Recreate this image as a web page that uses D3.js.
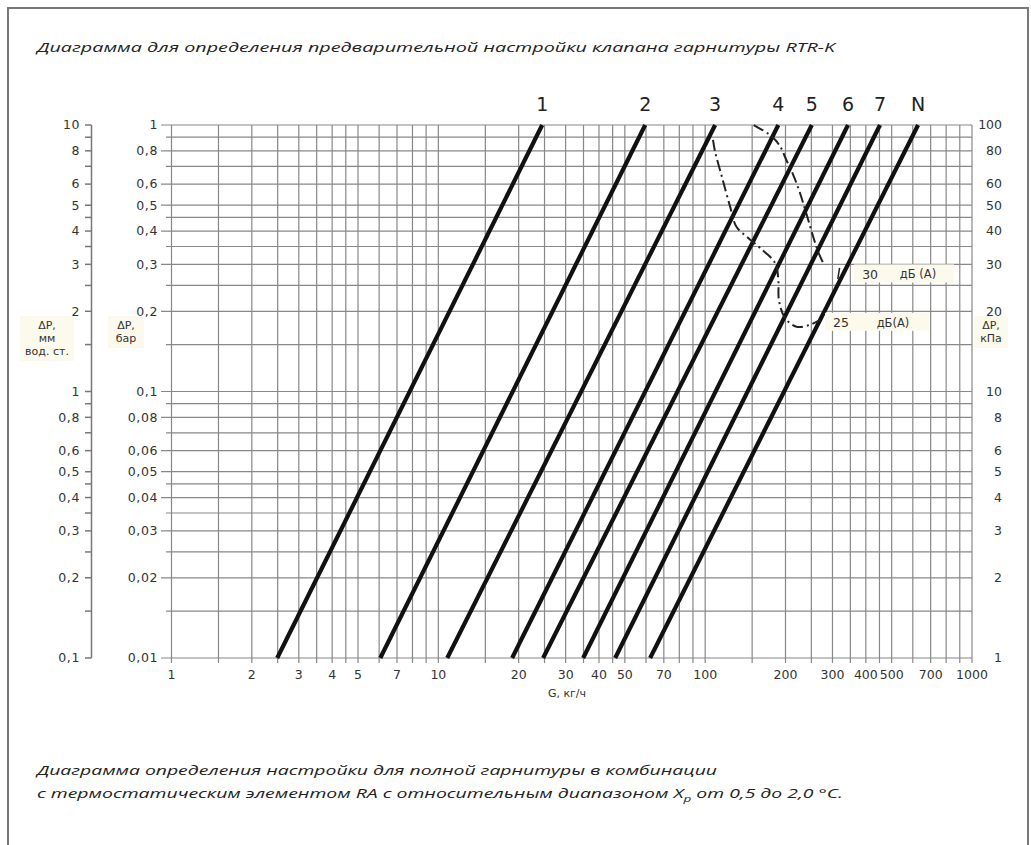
<!DOCTYPE html>
<html>
<head>
<meta charset="utf-8">
<script src="https://cdn.jsdelivr.net/npm/d3@7"></script>
<style>
  body { margin: 0; background: #fff; }
  svg text { font-family: "DejaVu Sans", sans-serif; fill: #333; }
  .ttl { font-family: "Open Sans", sans-serif; font-style: italic; fill: #222; }
</style>
</head>
<body>
<svg id="Chart" width="1031" height="845"></svg>
<script>
// presetting lines: G (kg/h) at 0.01 bar and at 1 bar
var settings = ["1", "2", "3", "4", "5", "6", "7", "N"];
var gAtLow  = [2.49, 6.06, 10.8, 18.9, 24.7, 34.9, 46, 62.2];
var gAtHigh = [24.5, 59.6, 109, 188, 251, 343, 452, 628];
var pRange = [0.01, 1];

// noise limit curves [G, dP bar]
var noise30 = [[152, 1.0], [175, 0.917], [204, 0.72], [222, 0.59], [238, 0.475],
               [254, 0.381], [265, 0.335], [277, 0.303]];
var noise25 = [[107, 0.88], [109, 0.792], [115.5, 0.64], [124, 0.494], [131, 0.415],
               [145, 0.377], [161, 0.345], [183, 0.303], [188, 0.262], [189, 0.22],
               [199, 0.189], [220, 0.175], [247, 0.178], [270, 0.1855]];

var xTicks = [1, 2, 3, 4, 5, 7, 10, 20, 30, 40, 50, 70, 100, 200, 300, 400, 500, 700, 1000];
var barTicks = [1, 0.8, 0.6, 0.5, 0.4, 0.3, 0.2, 0.1, 0.08, 0.06, 0.05, 0.04, 0.03, 0.02, 0.01];
var mmTicks = [10, 8, 6, 5, 4, 3, 2, 1, 0.8, 0.6, 0.5, 0.4, 0.3, 0.2, 0.1];
var kpaTicks = [100, 80, 60, 50, 40, 30, 20, 10, 8, 6, 5, 4, 3, 2, 1];
var gridMantissa = [1, 1.5, 2, 2.5, 3, 3.5, 4, 4.5, 5, 6, 7, 8, 9];

var svg = d3.select("#Chart");
var x = d3.scaleLog().domain([1, 1000]).range([171.5, 972]);
var yBar = d3.scaleLog().domain([0.01, 1]).range([658, 125]);
var yMm = d3.scaleLog().domain([0.1, 10]).range([658, 125]);
var yKpa = d3.scaleLog().domain([1, 100]).range([658, 125]);

function decades(lo, hi) {
  var out = [];
  for (var e = Math.log10(lo); e < Math.log10(hi) - 1e-9; e++)
    gridMantissa.forEach(function (m) { out.push(+(m * Math.pow(10, e)).toPrecision(3)); });
  out.push(hi);
  return out;
}
var xGrid = decades(1, 1000);
var yGrid = decades(0.01, 1);
var mmGrid = decades(0.1, 10);
var fmt = function (v) { return String(v).replace(".", ","); };

// outer frame
svg.append("rect").attr("x", 8).attr("y", 8).attr("width", 1020).attr("height", 900)
  .attr("fill", "none").attr("stroke", "#777").attr("stroke-width", 2);

// title
svg.append("text").attr("class", "ttl").attr("x", 37).attr("y", 52)
  .attr("font-size", 13).attr("textLength", 798).attr("lengthAdjust", "spacingAndGlyphs")
  .text("Диаграмма для определения предварительной настройки клапана гарнитуры RTR-K");

// grid
var grid = svg.append("g").attr("stroke", "#888").attr("stroke-width", 1.2);
grid.selectAll(".v").data(xGrid).enter().append("line")
  .attr("x1", d => x(d)).attr("x2", d => x(d))
  .attr("y1", 125).attr("y2", 663);
grid.selectAll(".h").data(yGrid).enter().append("line")
  .attr("x1", d => barTicks.indexOf(d) >= 0 ? 161 : 166).attr("x2", 972)
  .attr("y1", d => yBar(d)).attr("y2", d => yBar(d));

// bar axis labels
svg.append("g").selectAll("text").data(barTicks).enter().append("text")
  .attr("x", 158).attr("y", d => yBar(d)).attr("dy", "0.35em")
  .attr("text-anchor", "end").attr("font-size", 12.5).attr("letter-spacing", 0.6)
  .text(fmt);

// water column axis
var mm = svg.append("g");
mm.append("line").attr("x1", 91.5).attr("x2", 91.5).attr("y1", 125).attr("y2", 658)
  .attr("stroke", "#777").attr("stroke-width", 1.5);
mm.selectAll("line.t").data(mmGrid).enter().append("line")
  .attr("x1", 85).attr("x2", 91.5).attr("y1", d => yMm(d)).attr("y2", d => yMm(d))
  .attr("stroke", "#777").attr("stroke-width", 1.5);
mm.selectAll("text").data(mmTicks).enter().append("text")
  .attr("x", 80).attr("y", d => yMm(d)).attr("dy", "0.35em")
  .attr("text-anchor", "end").attr("font-size", 12.5).attr("letter-spacing", 0.6)
  .text(fmt);

// kPa labels
svg.append("g").selectAll("text").data(kpaTicks).enter().append("text")
  .attr("x", 1002).attr("y", d => yKpa(d)).attr("dy", "0.35em")
  .attr("text-anchor", "end").attr("font-size", 12.5)
  .text(fmt);

// x labels
svg.append("g").selectAll("text").data(xTicks).enter().append("text")
  .attr("x", d => x(d)).attr("y", 675).attr("dy", "0.35em")
  .attr("text-anchor", "middle").attr("font-size", 12.5)
  .text(d => d);
svg.append("text").attr("x", 567).attr("y", 697).attr("text-anchor", "middle")
  .attr("font-size", 11).text("G, кг/ч");

// axis titles with light backgrounds
function axisTitle(cx, cy, lines, w) {
  svg.append("rect").attr("x", cx - w / 2).attr("y", cy - 10).attr("width", w)
    .attr("height", lines.length * 13 + 6).attr("fill", "#fcfaec");
  lines.forEach(function (t, i) {
    svg.append("text").attr("x", cx).attr("y", cy + 3 + i * 13)
      .attr("text-anchor", "middle").attr("font-size", 11).text(t);
  });
}
axisTitle(47, 326, ["ΔP,", "мм", "вод. ст."], 54);
axisTitle(126, 326, ["ΔP,", "бар"], 36);
axisTitle(991, 326, ["ΔP,", "кПа"], 34);

// presetting lines
var lines = settings.map((s, i) => ({ s: s, pts: [[gAtLow[i], pRange[0]], [gAtHigh[i], pRange[1]]] }));
var line = d3.line().x(d => x(d[0])).y(d => yBar(d[1]));
svg.append("g").selectAll("path").data(lines).enter().append("path")
  .attr("d", d => line(d.pts)).attr("fill", "none")
  .attr("stroke", "#111").attr("stroke-width", 4.2);
svg.append("g").selectAll("text").data(lines).enter().append("text")
  .attr("x", d => x(d.pts[1][0])).attr("y", 111)
  .attr("text-anchor", "middle").attr("font-family", "Roboto").attr("font-size", 19)
  .style("fill", "#222").text(d => d.s);

// noise curves
var curve30 = d3.line().x(d => x(d[0])).y(d => yBar(d[1])).curve(d3.curveMonotoneY);
var curve25 = d3.line().x(d => x(d[0])).y(d => yBar(d[1])).curve(d3.curveCatmullRom.alpha(0.5));
svg.append("path").attr("d", curve30(noise30)).attr("fill", "none")
  .attr("stroke", "#222").attr("stroke-width", 2).attr("stroke-dasharray", "11,4,2,4");
svg.append("path").attr("d", curve25(noise25)).attr("fill", "none")
  .attr("stroke", "#222").attr("stroke-width", 2).attr("stroke-dasharray", "11,4,2,4");

function noiseLabel(g, p, num, unit, ux) {
  svg.append("rect").attr("x", x(g) - 16).attr("y", yBar(p) - 10).attr("width", ux - x(g) + 52)
    .attr("height", 18).attr("fill", "#fcfaec");
  svg.append("text").attr("x", x(g)).attr("y", yBar(p)).attr("dy", "0.35em")
    .attr("text-anchor", "middle").attr("font-size", 12.5).text(num);
  svg.append("text").attr("x", ux).attr("y", yBar(p)).attr("dy", "0.35em")
    .attr("text-anchor", "middle").attr("font-size", 11.5).text(unit);
}
noiseLabel(415, 0.275, "30", "дБ (А)", 918);
noiseLabel(323, 0.181, "25", "дБ(А)", 893);
// short leader at the 30 dB label
svg.append("line").attr("x1", x(314)).attr("y1", yBar(0.264)).attr("x2", x(319)).attr("y2", yBar(0.291))
  .attr("stroke", "#222").attr("stroke-width", 1.5);

// caption
svg.append("text").attr("class", "ttl").attr("x", 37).attr("y", 775)
  .attr("font-size", 13).attr("textLength", 680).attr("lengthAdjust", "spacingAndGlyphs")
  .text("Диаграмма определения настройки для полной гарнитуры в комбинации");
var cap = svg.append("text").attr("class", "ttl").attr("x", 37).attr("y", 798)
  .attr("font-size", 13).attr("textLength", 806).attr("lengthAdjust", "spacingAndGlyphs");
cap.append("tspan").text("с термостатическим элементом RA с относительным диапазоном X");
cap.append("tspan").attr("font-size", 9).attr("dy", 4).text("p");
cap.append("tspan").attr("dy", -4).text(" от 0,5 до 2,0 °C.");
</script>
</body>
</html>
